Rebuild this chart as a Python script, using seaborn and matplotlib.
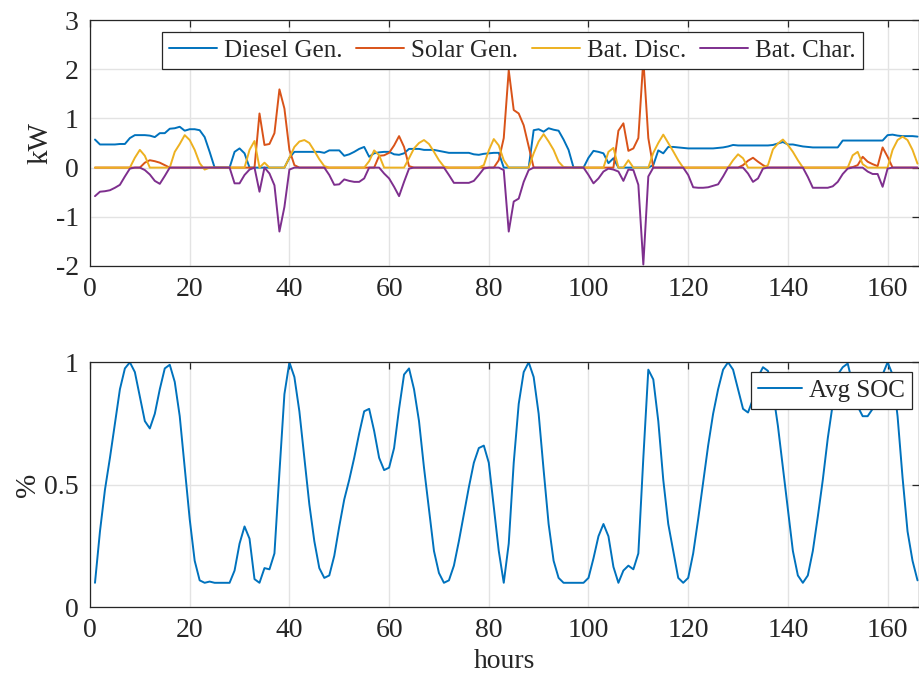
import numpy as np
import pandas as pd
import matplotlib
matplotlib.use("Agg")
import matplotlib.pyplot as plt
import seaborn as sns

hours = list(range(1, 167))

diesel_gen = [
    0.57, 0.47, 0.47, 0.47, 0.47, 0.48, 0.48, 0.60, 0.66, 0.66,
    0.66, 0.65, 0.62, 0.70, 0.70, 0.79, 0.80, 0.83, 0.75, 0.78,
    0.78, 0.76, 0.62, 0.32, 0, 0, 0, 0, 0.32, 0.39,
    0.29, 0, 0, 0, 0, 0, 0, 0, 0, 0.20,
    0.32, 0.32, 0.32, 0.32, 0.32, 0.32, 0.30, 0.35, 0.35, 0.35,
    0.24, 0.27, 0.32, 0.38, 0.42, 0.22, 0.29, 0.31, 0.32, 0.32,
    0.27, 0.26, 0.29, 0.38, 0.38, 0.38, 0.36, 0.36, 0.36, 0.34,
    0.32, 0.30, 0.30, 0.30, 0.30, 0.30, 0.27, 0.26, 0.28, 0.29,
    0.30, 0.30, 0, 0, 0, 0, 0, 0, 0.76, 0.78,
    0.73, 0.80, 0.77, 0.75, 0.57, 0.36, 0, 0, 0, 0.20,
    0.34, 0.32, 0.29, 0.09, 0.19, 0, 0, 0, 0, 0,
    0, 0, 0.05, 0.35, 0.29, 0.42, 0.42, 0.41, 0.40, 0.39,
    0.39, 0.39, 0.39, 0.39, 0.39, 0.40, 0.41, 0.43, 0.46, 0.45,
    0.45, 0.45, 0.45, 0.45, 0.45, 0.45, 0.46, 0.49, 0.52, 0.47,
    0.47, 0.45, 0.43, 0.42, 0.41, 0.41, 0.41, 0.41, 0.41, 0.41,
    0.55, 0.55, 0.55, 0.55, 0.55, 0.55, 0.55, 0.55, 0.55, 0.66,
    0.67, 0.65, 0.64, 0.64, 0.64, 0.63,
]

solar_gen = [
    0, 0, 0, 0, 0, 0, 0, 0, 0, 0,
    0.10, 0.15, 0.13, 0.10, 0.05, 0, 0, 0, 0, 0,
    0, 0, 0, 0, 0, 0, 0, 0, 0, 0,
    0, 0, 0, 1.10, 0.46, 0.48, 0.70, 1.59, 1.20, 0.36,
    0.05, 0, 0, 0, 0, 0, 0, 0, 0, 0,
    0, 0, 0, 0, 0, 0, 0, 0.24, 0.25, 0.30,
    0.45, 0.64, 0.42, 0.03, 0, 0, 0, 0, 0, 0,
    0, 0, 0, 0, 0, 0, 0, 0, 0, 0,
    0, 0.15, 0.60, 1.98, 1.17, 1.10, 0.86, 0.43, 0, 0,
    0, 0, 0, 0, 0, 0, 0, 0, 0, 0,
    0, 0, 0, 0, 0, 0.75, 0.90, 0.34, 0.39, 0.60,
    2.20, 0.60, 0, 0, 0, 0, 0, 0, 0, 0,
    0, 0, 0, 0, 0, 0, 0, 0, 0, 0,
    0.05, 0.14, 0.20, 0.12, 0.05, 0, 0, 0, 0, 0,
    0, 0, 0, 0, 0, 0, 0, 0, 0, 0,
    0, 0, 0.01, 0.05, 0.22, 0.12, 0.07, 0.03, 0.41, 0.22,
    0, 0, 0, 0, 0, 0,
]

bat_disc = [
    0, 0, 0, 0, 0, 0, 0, 0, 0.20, 0.36,
    0.24, 0, 0, 0, 0, 0, 0.32, 0.48, 0.66, 0.56,
    0.36, 0.09, -0.04, 0, 0, 0, 0, 0, 0, 0,
    0, 0.36, 0.54, 0, 0.10, 0, 0, 0, 0, 0.20,
    0.42, 0.53, 0.56, 0.50, 0.34, 0.17, 0.03, 0, 0, 0,
    0, 0, 0, 0, 0, 0.13, 0.35, 0.25, 0, 0,
    0, 0, 0, 0.19, 0.39, 0.50, 0.56, 0.48, 0.32, 0.15,
    0.02, 0, 0, 0, 0, 0, 0, 0, 0.05, 0.35,
    0.58, 0.45, 0.15, 0, 0, 0, 0, 0, 0.29, 0.53,
    0.68, 0.53, 0.36, 0.12, 0.01, 0, 0, 0, 0, 0,
    0, 0, 0, 0.32, 0.40, 0, 0, 0.15, 0, 0,
    0, 0, 0.30, 0.50, 0.67, 0.50, 0.33, 0.15, 0, 0,
    0, 0, 0, 0, 0, 0, 0, 0, 0.15, 0.27,
    0.19, 0, 0, 0, 0, 0.05, 0.37, 0.49, 0.57, 0.46,
    0.32, 0.15, 0, 0, 0, 0, 0, 0, 0, 0,
    0, 0, 0.25, 0.32, 0.07, 0, 0, 0, 0, 0,
    0.36, 0.56, 0.63, 0.56, 0.36, 0.08,
]

bat_char = [
    -0.58, -0.49, -0.48, -0.46, -0.41, -0.35, -0.18, -0.02, 0, 0,
    -0.05, -0.14, -0.27, -0.33, -0.17, 0, 0, 0, 0, 0,
    0, 0, 0, 0, 0, 0, 0, 0, -0.32, -0.32,
    -0.15, -0.04, 0, -0.49, 0, -0.12, -0.36, -1.30, -0.80, -0.04,
    0, 0, 0, 0, 0, 0, 0, -0.15, -0.35, -0.34,
    -0.24, -0.27, -0.29, -0.29, -0.22, 0, 0, 0, -0.12, -0.22,
    -0.39, -0.58, -0.29, -0.02, 0, 0, 0, 0, 0, 0,
    0, -0.15, -0.31, -0.31, -0.31, -0.31, -0.27, -0.15, -0.02, 0,
    0, 0, -0.05, -1.30, -0.69, -0.63, -0.29, -0.05, 0, 0,
    0, 0, 0, 0, 0, 0, 0, 0, 0, -0.15,
    -0.32, -0.22, -0.08, -0.02, -0.04, -0.08, -0.27, -0.04, -0.05, -0.35,
    -1.97, -0.18, 0, 0, 0, 0, 0, 0, 0, -0.15,
    -0.40, -0.41, -0.41, -0.40, -0.37, -0.34, -0.18, 0, 0, 0,
    0, -0.12, -0.29, -0.22, -0.02, 0, 0, 0, 0, 0,
    0, 0, 0, -0.19, -0.41, -0.41, -0.41, -0.41, -0.38, -0.29,
    -0.13, -0.02, 0, 0, 0, -0.08, -0.13, -0.13, -0.39, -0.02,
    0, 0, 0, 0, 0, 0,
]

avg_soc = [
    0.10, 0.31, 0.48, 0.61, 0.75, 0.89, 0.975, 1.0, 0.96, 0.86,
    0.76, 0.73, 0.79, 0.89, 0.975, 0.99, 0.92, 0.78, 0.57, 0.36,
    0.19, 0.11, 0.10, 0.105, 0.10, 0.10, 0.10, 0.10, 0.15, 0.26,
    0.33, 0.28, 0.115, 0.10, 0.16, 0.155, 0.22, 0.55, 0.87, 1.0,
    0.94, 0.80, 0.61, 0.42, 0.27, 0.16, 0.12, 0.13, 0.21, 0.33,
    0.44, 0.52, 0.61, 0.71, 0.80, 0.81, 0.72, 0.61, 0.56, 0.57,
    0.65, 0.81, 0.95, 0.975, 0.89, 0.76, 0.57, 0.40, 0.23, 0.14,
    0.10, 0.11, 0.17, 0.27, 0.38, 0.49, 0.59, 0.65, 0.66, 0.59,
    0.41, 0.23, 0.10, 0.26, 0.59, 0.83, 0.96, 1.0, 0.94, 0.79,
    0.56, 0.34, 0.19, 0.12, 0.10, 0.10, 0.10, 0.10, 0.10, 0.12,
    0.20, 0.29, 0.34, 0.29, 0.165, 0.10, 0.15, 0.17, 0.155, 0.22,
    0.61, 0.97, 0.93, 0.76, 0.52, 0.34, 0.23, 0.12, 0.10, 0.12,
    0.22, 0.36, 0.51, 0.66, 0.79, 0.89, 0.97, 1.0, 0.97, 0.89,
    0.81, 0.795, 0.85, 0.94, 0.98, 0.965, 0.88, 0.74, 0.57, 0.40,
    0.23, 0.13, 0.10, 0.13, 0.23, 0.37, 0.52, 0.69, 0.83, 0.95,
    0.98, 0.995, 0.91, 0.82, 0.78, 0.78, 0.81, 0.87, 0.95, 1.0,
    0.95, 0.78, 0.53, 0.31, 0.19, 0.11,
]

series_names = ["Diesel Gen.", "Solar Gen.", "Bat. Disc.", "Bat. Char."]
series_colors = ["#0072BD", "#D95319", "#EDB120", "#7E2F8E"]
x_ticks = [0, 20, 40, 60, 80, 100, 120, 140, 160]

sns.set_style("white")
plt.rcParams["font.family"] = ["Liberation Serif", "DejaVu Serif"]
plt.rcParams["axes.unicode_minus"] = False

power = pd.DataFrame({
    "hours": hours * 4,
    "kW": diesel_gen + solar_gen + bat_disc + bat_char,
    "series": sum([[n] * len(hours) for n in series_names], []),
})
soc = pd.DataFrame({"hours": hours, "soc": avg_soc})

fig = plt.figure(figsize=(9.2, 6.84), dpi=100)
ax1 = fig.add_axes([90 / 920, 1 - 266 / 684, 829 / 920, 246 / 684])
ax2 = fig.add_axes([90 / 920, 1 - 607.3 / 684, 829 / 920, 245 / 684])

sns.lineplot(data=power, x="hours", y="kW", hue="series", hue_order=series_names,
             palette=series_colors, linewidth=1.4, ax=ax1, legend=False,
             estimator=None, sort=False)
sns.lineplot(data=soc, x="hours", y="soc", color="#0072BD", linewidth=1.4,
             ax=ax2, legend=False, estimator=None)

txt_color = "#262626"
for ax in (ax1, ax2):
    ax.set_xlim(0, 166.3)
    ax.set_xticks(x_ticks)
    ax.grid(True, color="#e3e3e3", linewidth=1.0)
    ax.set_axisbelow(True)
    ax.tick_params(direction="in", length=5, width=0.9, top=True, right=True,
                   labelsize=20, colors=txt_color, pad=8)
    for sp in ax.spines.values():
        sp.set_visible(True)
        sp.set_color(txt_color)
        sp.set_linewidth(0.9)

ax1.set_ylim(-2, 3)
ax1.set_yticks([-2, -1, 0, 1, 2, 3])
ax1.set_xlabel("")
ax1.set_ylabel("kW", fontsize=21, color=txt_color, labelpad=2)

ax2.set_ylim(0, 1)
ax2.set_yticks([0, 0.5, 1])
ax2.set_yticklabels(["0", "0.5", "1"])
ax2.set_xlabel("hours", fontsize=20, color=txt_color, labelpad=4)
ax2.set_ylabel("%", fontsize=21, color=txt_color, labelpad=2)

handles1 = [plt.Line2D([], [], color=c, linewidth=1.4) for c in series_colors]
leg1 = ax1.legend(handles1, series_names, loc="upper center",
                  bbox_to_anchor=(0.5097, 0.951), ncol=4, fontsize=18,
                  frameon=True, fancybox=False, framealpha=1, edgecolor=txt_color,
                  handlelength=1.9, handletextpad=0.3, columnspacing=0.55,
                  borderpad=0.28, borderaxespad=0)
leg1.get_frame().set_linewidth(0.9)

leg2 = ax2.legend([plt.Line2D([], [], color="#0072BD", linewidth=1.4)], ["Avg SOC"],
                  loc="upper right", bbox_to_anchor=(0.9915, 0.96), fontsize=18,
                  frameon=True, fancybox=False, framealpha=1, edgecolor=txt_color,
                  handlelength=1.75, handletextpad=0.3, borderpad=0.28, borderaxespad=0)
leg2.get_frame().set_linewidth(0.9)

fig.savefig("out.png", dpi=100)
